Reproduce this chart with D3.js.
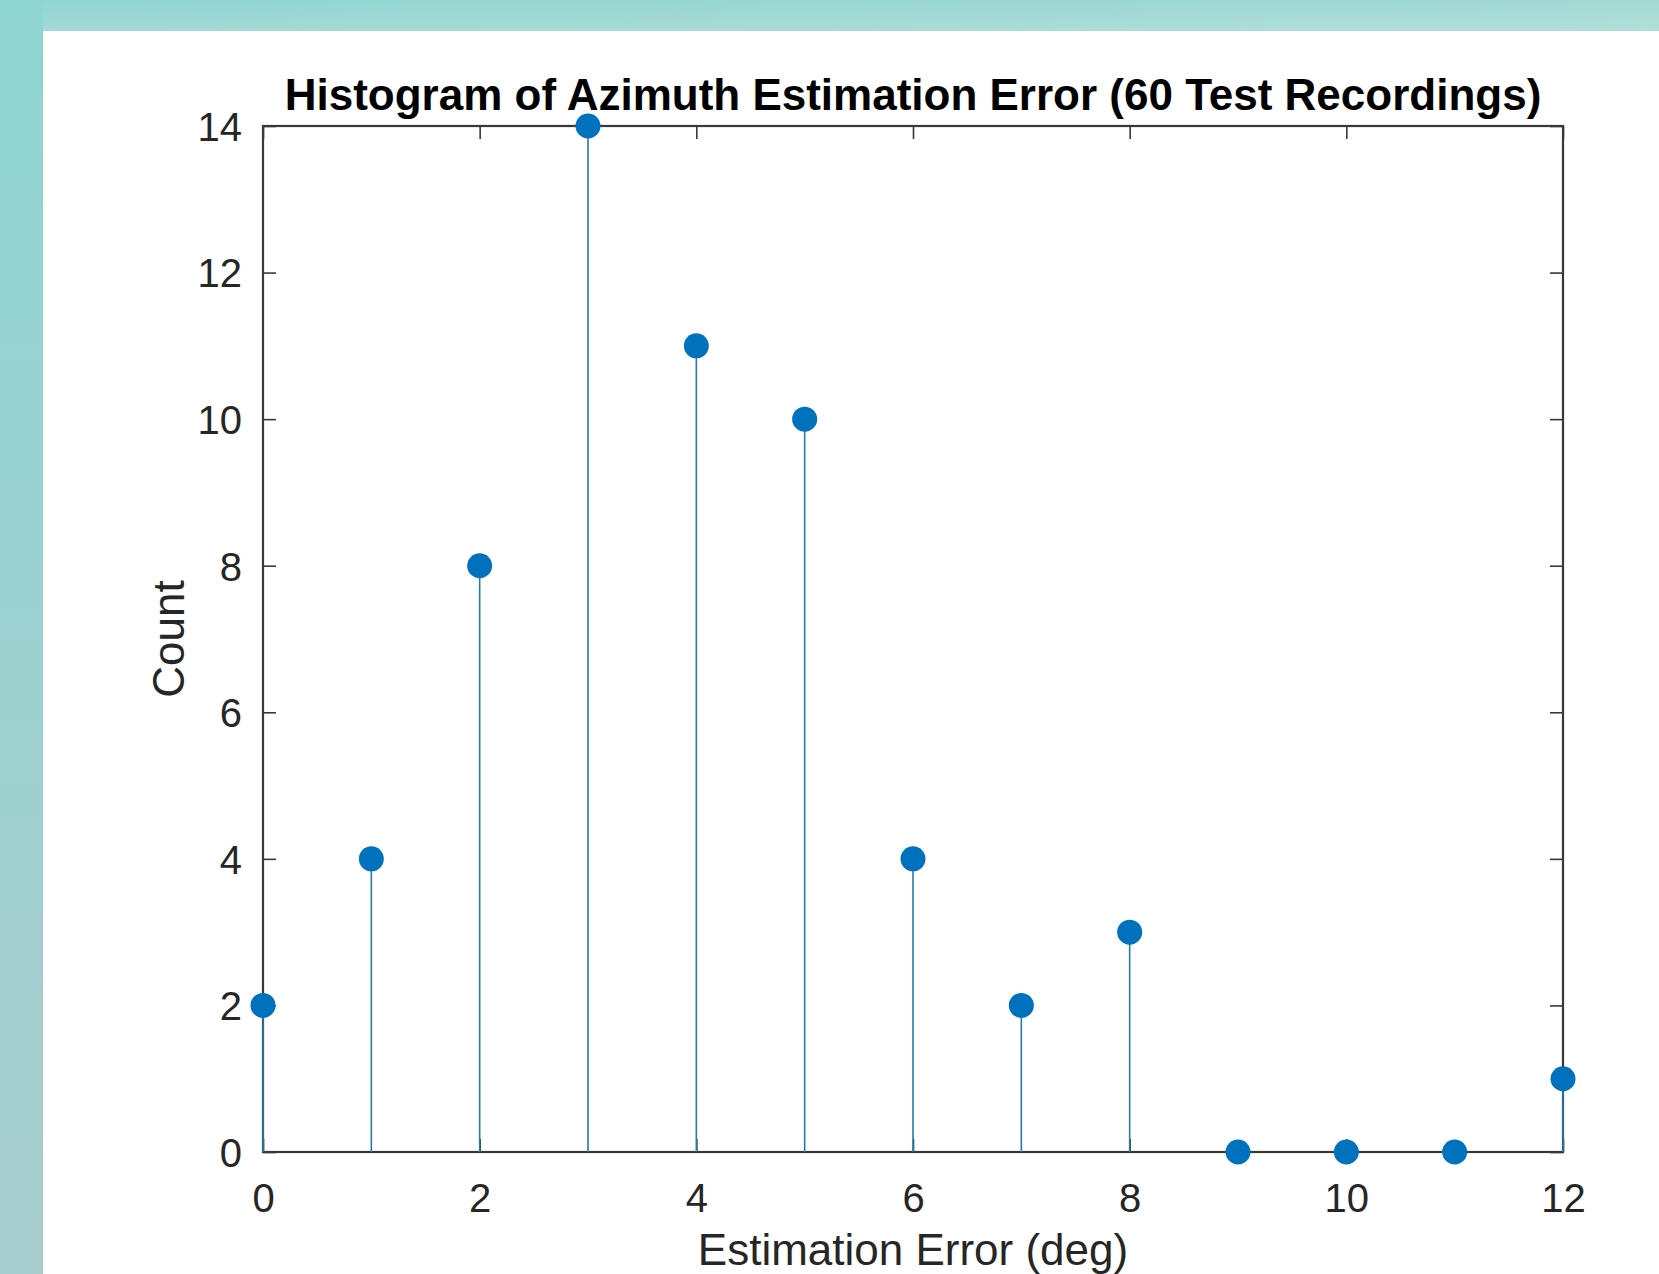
<!DOCTYPE html>
<html>
<head>
<meta charset="utf-8">
<script src="https://cdn.jsdelivr.net/npm/d3@7"></script>
<style>
  html, body { margin: 0; padding: 0; overflow: hidden; background: #fff; }
  svg { display: block; }
</style>
</head>
<body>
<svg id="chart" width="1659" height="1274"></svg>
<script>
// ---- data ----
const errorDeg = [0, 1, 2, 3, 4, 5, 6, 7, 8, 9, 10, 11, 12];
const counts   = [2, 4, 8, 14, 11, 10, 4, 2, 3, 0, 0, 0, 1];
const xTicks = [0, 2, 4, 6, 8, 10, 12];
const yTicks = [0, 2, 4, 6, 8, 10, 12, 14];
const titleText = "Histogram of Azimuth Estimation Error (60 Test Recordings)";
const xLabelText = "Estimation Error (deg)";
const yLabelText = "Count";

// ---- layout ----
const W = 1659, H = 1274;
const plot = { left: 263, right: 1563, top: 126, bottom: 1152 };
const font = "'Liberation Sans', Arial, sans-serif";
const axisColor = "#383838";
const textColor = "#262626";
const stemColor = "#2a7aa8";
const markColor = "#0072BD";
const tickLen = 13;

const svg = d3.select("#chart");

// background frame (teal gradient) + white panel
const defs = svg.append("defs");
const grad = defs.append("linearGradient").attr("id", "bg")
  .attr("x1", "0").attr("y1", "0").attr("x2", "1").attr("y2", "1");
grad.append("stop").attr("offset", "0%").attr("stop-color", "#8fd5d2");
grad.append("stop").attr("offset", "50%").attr("stop-color", "#a1d9d5");
grad.append("stop").attr("offset", "100%").attr("stop-color", "#b3dfd8");
const gradL = defs.append("linearGradient").attr("id", "bgL")
  .attr("x1", "0").attr("y1", "0").attr("x2", "0").attr("y2", "1");
gradL.append("stop").attr("offset", "0%").attr("stop-color", "#8fd5d2");
gradL.append("stop").attr("offset", "100%").attr("stop-color", "#a7cccd");

svg.append("rect").attr("x", 0).attr("y", 0).attr("width", W).attr("height", 31).attr("fill", "url(#bg)");
svg.append("rect").attr("x", 0).attr("y", 0).attr("width", 43).attr("height", H).attr("fill", "url(#bgL)");
svg.append("rect").attr("x", 43).attr("y", 31).attr("width", W - 43).attr("height", H - 31).attr("fill", "#ffffff");

// scales
const x = d3.scaleLinear().domain([0, 12]).range([plot.left, plot.right]);
const y = d3.scaleLinear().domain([0, 14]).range([plot.bottom, plot.top]);

// axes (inward ticks, box on)
function styleAxis(g) {
  g.select(".domain").remove();
  g.selectAll(".tick line").attr("stroke", axisColor).attr("stroke-width", 1.6);
  g.selectAll(".tick text").attr("fill", textColor).style("font-family", font).style("font-size", "40px");
}
const gx = svg.append("g").attr("transform", `translate(0,${plot.bottom})`)
  .call(d3.axisBottom(x).tickValues(xTicks).tickSizeInner(-tickLen).tickSizeOuter(0).tickPadding(0).tickFormat(d3.format("d")));
styleAxis(gx);
gx.selectAll(".tick text").attr("y", 60).attr("dy", null);

const gxt = svg.append("g").attr("transform", `translate(0,${plot.top})`)
  .call(d3.axisTop(x).tickValues(xTicks).tickSizeInner(-tickLen).tickSizeOuter(0).tickFormat(""));
styleAxis(gxt);

const gy = svg.append("g").attr("transform", `translate(${plot.left},0)`)
  .call(d3.axisLeft(y).tickValues(yTicks).tickSizeInner(-tickLen).tickSizeOuter(0).tickPadding(0).tickFormat(d3.format("d")));
styleAxis(gy);
gy.selectAll(".tick text").attr("x", -21).attr("dy", null).attr("y", 14.3).attr("text-anchor", "end");

const gyr = svg.append("g").attr("transform", `translate(${plot.right},0)`)
  .call(d3.axisRight(y).tickValues(yTicks).tickSizeInner(-tickLen).tickSizeOuter(0).tickFormat(""));
styleAxis(gyr);

// box
svg.append("rect")
  .attr("x", plot.left).attr("y", plot.top)
  .attr("width", plot.right - plot.left).attr("height", plot.bottom - plot.top)
  .attr("fill", "none").attr("stroke", axisColor).attr("stroke-width", 2.2);

// stems
const data = errorDeg.map((d, i) => ({ e: d, c: counts[i] }));
svg.append("g").selectAll("line").data(data).join("line")
  .attr("x1", d => x(d.e)).attr("x2", d => x(d.e))
  .attr("y1", y(0)).attr("y2", d => y(d.c))
  .attr("stroke", stemColor).attr("stroke-width", 1.6);

// markers
svg.append("g").selectAll("circle").data(data).join("circle")
  .attr("cx", d => x(d.e)).attr("cy", d => y(d.c))
  .attr("r", 12.5).attr("fill", markColor);

// title
svg.append("text")
  .attr("x", (plot.left + plot.right) / 2).attr("y", 110)
  .attr("text-anchor", "middle")
  .style("font-family", font).style("font-size", "44px").style("font-weight", "bold")
  .attr("fill", "#000").text(titleText);

// x label
svg.append("text")
  .attr("x", (plot.left + plot.right) / 2).attr("y", 1265)
  .attr("text-anchor", "middle")
  .style("font-family", font).style("font-size", "44px")
  .attr("fill", textColor).text(xLabelText);

// y label
svg.append("text")
  .attr("transform", `translate(184,${(plot.top + plot.bottom) / 2}) rotate(-90)`)
  .attr("text-anchor", "middle")
  .style("font-family", font).style("font-size", "44px")
  .attr("fill", textColor).text(yLabelText);
</script>
</body>
</html>
